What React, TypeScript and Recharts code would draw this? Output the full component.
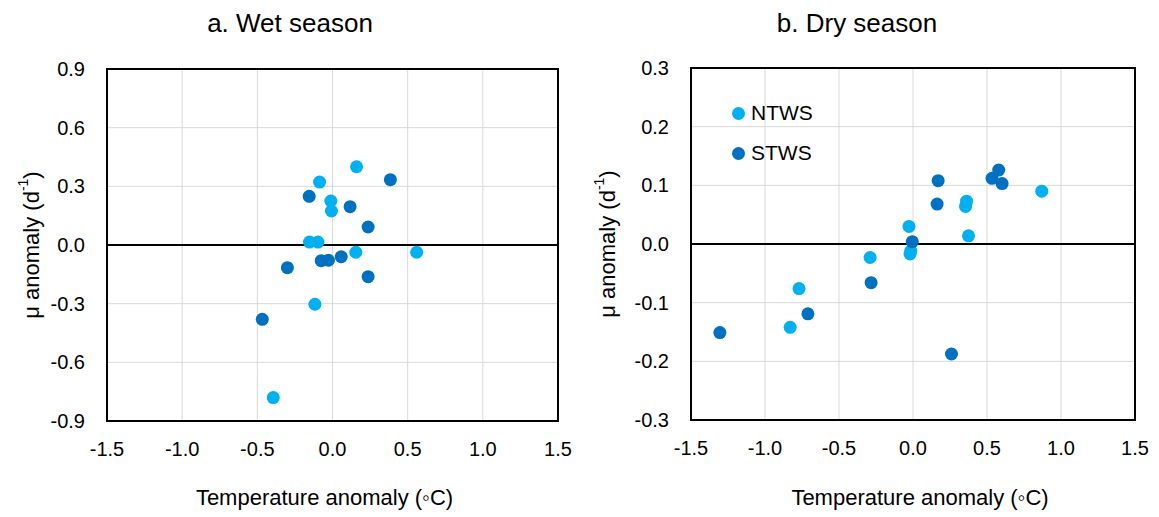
import React from "react";
import {
  CartesianGrid,
  Legend,
  ReferenceArea,
  ReferenceLine,
  Scatter,
  ScatterChart,
  XAxis,
  YAxis,
} from "recharts";

// Values: temperature anomaly (°C) vs µ anomaly (d-1)
const wetNTWS = [
  { x: 0.16, y: 0.4 },
  { x: -0.086, y: 0.322 },
  { x: -0.011, y: 0.225 },
  { x: -0.007, y: 0.174 },
  { x: -0.153, y: 0.015 },
  { x: -0.097, y: 0.015 },
  { x: 0.155, y: -0.037 },
  { x: 0.56, y: -0.037 },
  { x: -0.117, y: -0.303 },
  { x: -0.394, y: -0.78 },
];
const wetSTWS = [
  { x: 0.385, y: 0.334 },
  { x: -0.155, y: 0.249 },
  { x: 0.117, y: 0.196 },
  { x: 0.237, y: 0.092 },
  { x: -0.075, y: -0.08 },
  { x: -0.027, y: -0.078 },
  { x: 0.058, y: -0.06 },
  { x: -0.3, y: -0.116 },
  { x: 0.237, y: -0.162 },
  { x: -0.467, y: -0.38 },
];
const dryNTWS = [
  { x: -0.027, y: 0.03 },
  { x: -0.02, y: -0.017 },
  { x: -0.015, y: -0.012 },
  { x: -0.29, y: -0.023 },
  { x: -0.77, y: -0.076 },
  { x: -0.83, y: -0.142 },
  { x: 0.362, y: 0.073 },
  { x: 0.355, y: 0.064 },
  { x: 0.375, y: 0.014 },
  { x: 0.87, y: 0.09 },
];
const drySTWS = [
  { x: 0.17, y: 0.108 },
  { x: 0.163, y: 0.068 },
  { x: -0.005, y: 0.004 },
  { x: -0.283, y: -0.066 },
  { x: -0.71, y: -0.119 },
  { x: -1.305, y: -0.151 },
  { x: 0.26, y: -0.1875 },
  { x: 0.579, y: 0.126 },
  { x: 0.534, y: 0.112 },
  { x: 0.602, y: 0.103 },
];

const xTicks = [-1.5, -1.0, -0.5, 0.0, 0.5, 1.0, 1.5];
const wetYTicks = [-0.9, -0.6, -0.3, 0.0, 0.3, 0.6, 0.9];
const dryYTicks = [-0.3, -0.2, -0.1, 0.0, 0.1, 0.2, 0.3];

const LIGHT = "#00B0F0";
const DARK = "#0070C0";
const FONT = "'Liberation Sans', Arial, sans-serif";

const dot = (fill: string) => (p: any) => <circle cx={p.cx} cy={p.cy} r={6.5} fill={fill} />;

const yLabel = (cx: number) => ({ viewBox }: any) => {
  const cy = viewBox.y + viewBox.height / 2;
  return (
    <text
      x={cx}
      y={cy}
      transform={`rotate(-90 ${cx} ${cy})`}
      textAnchor="middle"
      dominantBaseline="central"
      fontSize={22}
      fontFamily={FONT}
      fill="#000"
    >
      μ anomaly (d
      <tspan dy={-8} fontSize={14}>-1</tspan>
      <tspan dy={8}>)</tspan>
    </text>
  );
};

const xLabel = (dx: number) => ({ viewBox }: any) => (
  <text
    x={viewBox.x + viewBox.width / 2 + dx}
    y={505}
    textAnchor="middle"
    fontSize={22}
    fontFamily={FONT}
    fill="#000"
  >
    Temperature anomaly (◦C)
  </text>
);

const LegendBox = () => (
  <div style={{ fontFamily: FONT, fontSize: 21, color: "#000" }}>
    {[
      { name: "NTWS", color: LIGHT },
      { name: "STWS", color: DARK },
    ].map((it) => (
      <div key={it.name} style={{ display: "flex", alignItems: "center", height: 40 }}>
        <span
          style={{ width: 13, height: 13, borderRadius: "50%", background: it.color, marginRight: 6 }}
        />
        {it.name}
      </div>
    ))}
  </div>
);

const tickStyle = { fontSize: 20, fill: "#000", fontFamily: FONT };

function Panel({
  ntws,
  stws,
  yTicks,
  margin,
  width,
  yLabelX,
  xLabelDx,
  legend,
}: {
  ntws: { x: number; y: number }[];
  stws: { x: number; y: number }[];
  yTicks: number[];
  margin: { top: number; right: number; bottom: number; left: number };
  width: number;
  yLabelX: number;
  xLabelDx: number;
  legend?: boolean;
}) {
  const yMin = yTicks[0];
  const yMax = yTicks[yTicks.length - 1];
  return (
    <ScatterChart width={width} height={517} margin={margin}>
      <CartesianGrid stroke="#d9d9d9" strokeWidth={1} />
      <XAxis
        type="number"
        dataKey="x"
        domain={[-1.5, 1.5]}
        ticks={xTicks}
        tickFormatter={(v: number) => v.toFixed(1)}
        axisLine={false}
        tickLine={false}
        tickSize={0}
        tickMargin={21}
        height={30}
        tick={tickStyle}
        interval={0}
        label={{ content: xLabel(xLabelDx) }}
      />
      <YAxis
        type="number"
        dataKey="y"
        domain={[yMin, yMax]}
        ticks={yTicks}
        tickFormatter={(v: number) => v.toFixed(1)}
        axisLine={false}
        tickLine={false}
        tickSize={0}
        tickMargin={22}
        width={60}
        tick={tickStyle}
        interval={0}
        label={{ content: yLabel(yLabelX) }}
      />
      <ReferenceLine y={0} stroke="#000" strokeWidth={2} />
      <Scatter name="NTWS" data={ntws} fill={LIGHT} shape={dot(LIGHT)} isAnimationActive={false} />
      <Scatter name="STWS" data={stws} fill={DARK} shape={dot(DARK)} isAnimationActive={false} />
      <ReferenceArea
        x1={-1.5}
        x2={1.5}
        y1={yMin}
        y2={yMax}
        fill="none"
        fillOpacity={0}
        stroke="#000"
        strokeWidth={2}
      />
      {legend && (
        <Legend
          layout="vertical"
          align="center"
          verticalAlign="middle"
          content={<LegendBox />}
          wrapperStyle={{ left: 152, top: 93, width: 120, height: 80 }}
        />
      )}
    </ScatterChart>
  );
}

export default function App() {
  const title = (text: string, cx: number) => (
    <div
      style={{
        position: "absolute",
        left: cx - 150,
        top: 10,
        width: 300,
        textAlign: "center",
        fontFamily: FONT,
        fontSize: 26,
        lineHeight: "26px",
        color: "#000",
      }}
    >
      {text}
    </div>
  );
  return (
    <div style={{ position: "absolute", left: 0, top: 0, width: 1159, height: 517, background: "#fff" }}>
      <div style={{ position: "absolute", left: 0, top: 0 }}>
        <Panel
          ntws={wetNTWS}
          stws={wetSTWS}
          yTicks={wetYTicks}
          width={580}
          margin={{ top: 69, right: 22, bottom: 66, left: 47 }}
          yLabelX={31}
          xLabelDx={-8}
        />
      </div>
      <div style={{ position: "absolute", left: 580, top: 0 }}>
        <Panel
          ntws={dryNTWS}
          stws={drySTWS}
          yTicks={dryYTicks}
          width={579}
          margin={{ top: 68, right: 24, bottom: 67, left: 51 }}
          yLabelX={27}
          xLabelDx={7}
          legend
        />
      </div>
      {title("a. Wet season", 290)}
      {title("b. Dry season", 857)}
    </div>
  );
}
